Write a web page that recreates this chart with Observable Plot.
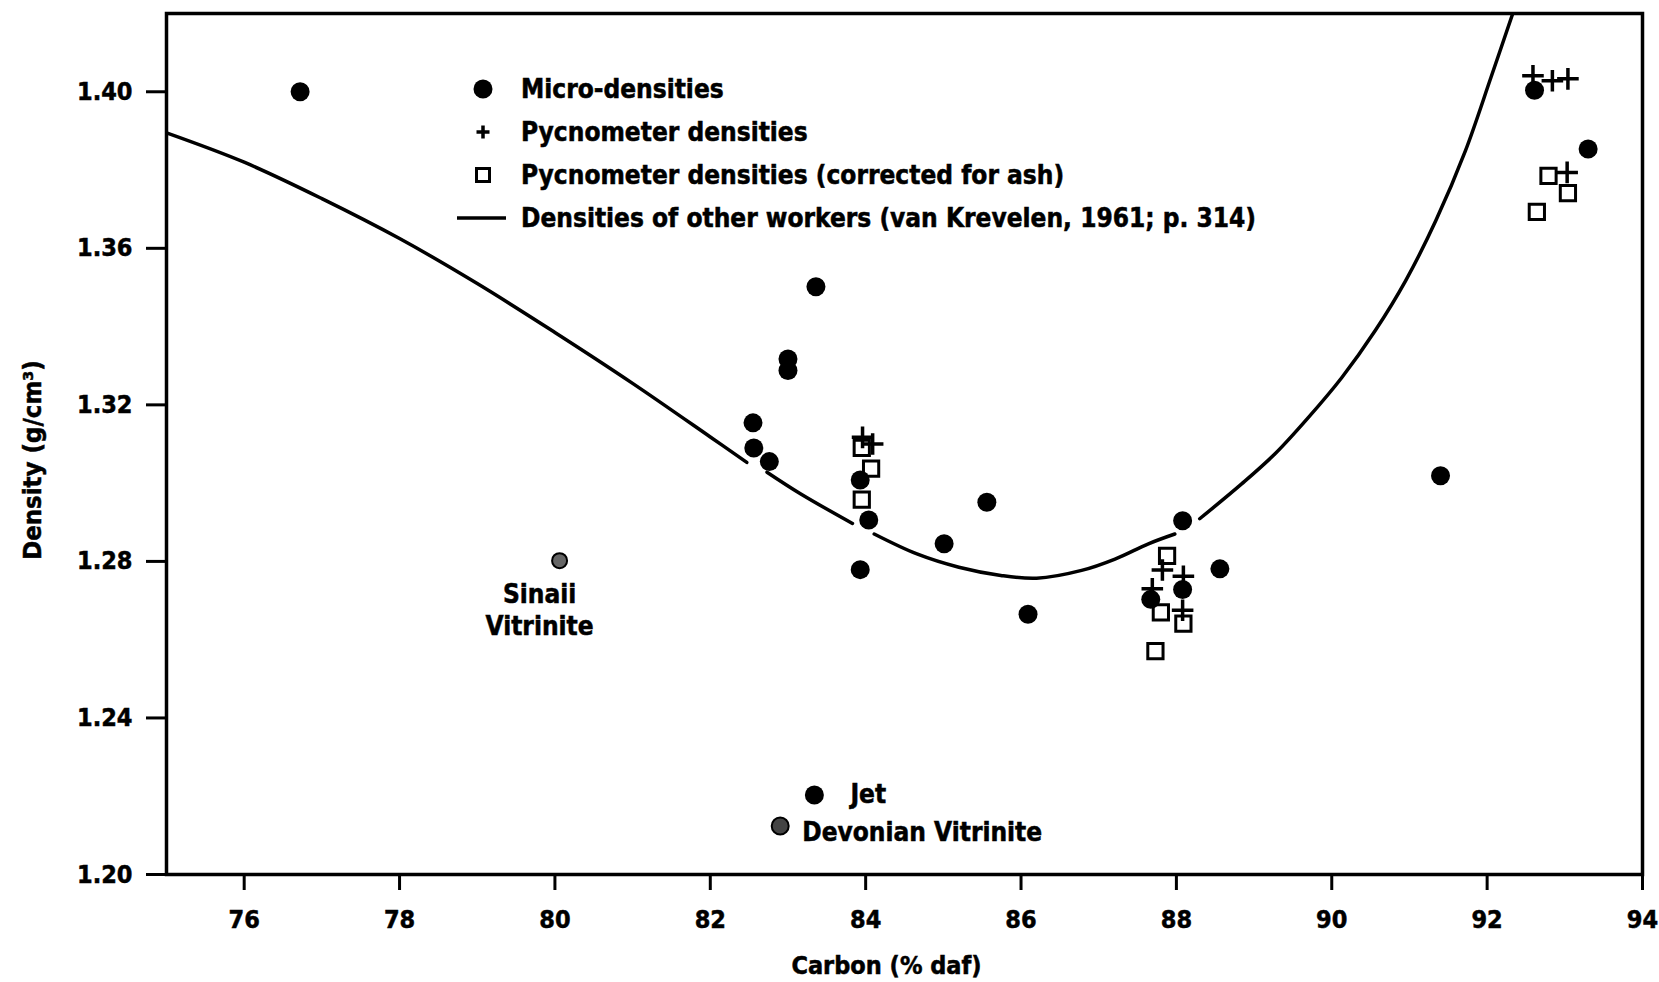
<!DOCTYPE html>
<html>
<head>
<meta charset="utf-8">
<script src="https://cdn.jsdelivr.net/npm/d3@7"></script>
<script src="https://cdn.jsdelivr.net/npm/@observablehq/plot@0.6"></script>
<style>
  html, body { margin: 0; padding: 0; background: #fff; }
  #chart { position: relative; width: 1659px; height: 982px; }
  #chart svg { display: block; }
  #chart svg text { stroke: #000; stroke-width: 0.5px; }
  #legend {
    position: absolute; left: 455px; top: 67px;
    font-family: "DejaVu Sans Condensed", "DejaVu Sans", sans-serif;
    font-stretch: condensed; font-weight: bold; font-size: 26px; color: #000;
    -webkit-text-stroke: 0.5px #000;
  }
  #legend .row { display: flex; align-items: center; height: 43px; white-space: nowrap; }
  #legend svg { width: 56px; height: 30px; margin-right: 10px; overflow: visible; }
</style>
</head>
<body>
<div id="chart"></div>
<script>
const FONT = '"DejaVu Sans Condensed", "DejaVu Sans", sans-serif';

// Micro-densities (filled circles): carbon % daf, density g/cm³
const microCarbon  = [76.72, 82.55, 82.56, 82.76, 83.00, 83.00, 83.36, 83.93, 84.04, 83.93,
                      85.01, 85.56, 86.09, 87.67, 88.08, 88.08, 88.56, 91.40, 92.61, 93.30];
const microDensity = [1.4000, 1.3154, 1.3090, 1.3055, 1.3317, 1.3288, 1.3502, 1.3008, 1.2906, 1.2779,
                      1.2845, 1.2951, 1.2665, 1.2703, 1.2904, 1.2728, 1.2781, 1.3019, 1.4004, 1.3854];

// Pycnometer densities (plus signs)
const pycCarbon  = [83.96, 84.09, 87.82, 88.09, 87.69, 88.08, 92.59, 92.84, 93.04, 93.03];
const pycDensity = [1.3117, 1.3100, 1.2778, 1.2762, 1.2730, 1.2675, 1.4041, 1.4028, 1.4033, 1.3794];

// Pycnometer densities corrected for ash (open squares)
const ashCarbon  = [83.95, 84.07, 83.95, 87.88, 87.80, 88.09, 87.73, 92.79, 93.04, 92.64];
const ashDensity = [1.3090, 1.3037, 1.2958, 1.2814, 1.2670, 1.2641, 1.2571, 1.3785, 1.3741, 1.3693];

// Named samples (Jet is a micro-density; the two vitrinites are shaded)
const sampleNames   = ["Jet", "Sinaii\nVitrinite", "Devonian Vitrinite"];
const sampleCarbon  = [83.34, 80.06, 82.90];
const sampleDensity = [1.2203, 1.2802, 1.2124];
const sampleSolid   = [true, false, false];

// Densities of other workers (van Krevelen, 1961), drawn in broken pieces
const curveCarbon  = [75.00, 76.00, 77.00, 78.00, 79.00, 80.00, 81.00, 82.00, 82.47,
                      82.73, 83.16, 83.83,
                      84.11, 84.66, 85.20, 85.74, 86.20, 86.78, 87.21, 87.64, 87.98,
                      88.30, 88.84, 89.27, 89.70, 90.13, 90.56, 90.95, 91.34, 91.72, 92.05, 92.33];
const curveDensity = [1.3895, 1.3820, 1.3727, 1.3625, 1.3510, 1.3385, 1.3255, 1.3118, 1.3053,
                      1.3028, 1.2973, 1.2897,
                      1.2870, 1.2819, 1.2785, 1.2764, 1.2757, 1.2777, 1.2806, 1.2845, 1.2870,
                      1.2909, 1.2998, 1.3075, 1.3168, 1.3270, 1.3390, 1.3517, 1.3671, 1.3849, 1.4037, 1.4200];
const curvePiece   = [0, 0, 0, 0, 0, 0, 0, 0, 0,
                      1, 1, 1,
                      2, 2, 2, 2, 2, 2, 2, 2, 2,
                      3, 3, 3, 3, 3, 3, 3, 3, 3, 3, 3];

const xTicks = [76, 78, 80, 82, 84, 86, 88, 90, 92, 94];
const yTicks = [1.20, 1.24, 1.28, 1.32, 1.36, 1.40];

const xLabel = "Carbon (% daf)";
const yLabel = "Density (g/cm³)";
const legendLabels = [
  "Micro-densities",
  "Pycnometer densities",
  "Pycnometer densities (corrected for ash)",
  "Densities of other workers (van Krevelen, 1961; p. 314)"
];

const idx = (arr) => arr.map((_, i) => i);
const microIdx = idx(microCarbon);
const pycIdx = idx(pycCarbon);
const ashIdx = idx(ashCarbon);
const sampleIdx = idx(sampleNames);
const curveIdx = idx(curveCarbon);
const solidIdx = sampleIdx.filter((i) => sampleSolid[i]);
const sx = (i) => sampleCarbon[i];
const sy = (i) => sampleDensity[i];

const chart = Plot.plot({
  width: 1659,
  height: 982,
  marginTop: 13,
  marginRight: 17,
  marginBottom: 108,
  marginLeft: 166,
  style: {fontFamily: FONT, fontSize: "25px", fontWeight: "bold", color: "#000", background: "#fff", fontStretch: "condensed"},
  x: {domain: [75, 94]},
  y: {domain: [1.20, 1.42]},
  marks: [
    Plot.axisX({ticks: xTicks, tickSize: 16, tickPadding: 20, strokeWidth: 3, label: null, tickFormat: d3.format("d")}),
    Plot.axisY({ticks: yTicks, tickSize: 20, tickPadding: 14, strokeWidth: 3, label: null, tickFormat: d3.format(".2f")}),
    Plot.frame({strokeWidth: 3.5}),
    Plot.line(curveIdx, {
      x: (i) => curveCarbon[i], y: (i) => curveDensity[i], z: (i) => curvePiece[i],
      curve: "catmull-rom", stroke: "#000", strokeWidth: 3.5, clip: true
    }),
    Plot.dot(microIdx, {x: (i) => microCarbon[i], y: (i) => microDensity[i], r: 9.5, fill: "#000"}),
    Plot.dot(solidIdx, {x: sx, y: sy, r: 9.5, fill: "#000"}),
    // shaded vitrinite samples
    Plot.dot([1], {x: sx, y: sy, r: 7.5, fill: "#666", stroke: "#000", strokeWidth: 2}),
    Plot.dot([2], {x: sx, y: sy, r: 8.5, fill: "#444", stroke: "#000", strokeWidth: 2}),
    Plot.dot(pycIdx, {x: (i) => pycCarbon[i], y: (i) => pycDensity[i], symbol: "plus", r: 7, stroke: "#000", strokeWidth: 3.5}),
    Plot.dot(ashIdx, {x: (i) => ashCarbon[i], y: (i) => ashDensity[i], symbol: "square", r: 8.6, stroke: "#000", fill: "none", strokeWidth: 3}),
    // sample annotations
    Plot.text([0], {x: sx, y: sy, text: (i) => sampleNames[i], textAnchor: "start", dx: 36, fontSize: 26}),
    Plot.text([2], {x: sx, y: sy, text: (i) => sampleNames[i], textAnchor: "start", dx: 22, dy: 7, fontSize: 26}),
    Plot.text([1], {
      x: sx, y: sy, text: (i) => sampleNames[i],
      textAnchor: "middle", lineAnchor: "top", lineHeight: 1.22, dx: -20, dy: 20, fontSize: 26
    }),
    // axis titles
    Plot.text([xLabel], {text: (d) => d, frameAnchor: "bottom", dx: -18, dy: 91, lineAnchor: "middle", fontSize: 25}),
    Plot.text([yLabel], {text: (d) => d, frameAnchor: "left", dx: -134, dy: 16, rotate: -90, lineAnchor: "middle", textAnchor: "middle", fontSize: 25.5})
  ]
});

const host = document.getElementById("chart");
host.appendChild(chart);

// legend drawn over the upper-left of the plot area
const legendSymbols = [
  '<circle cx="28" cy="15" r="9.5" fill="#000"/>',
  '<path d="M28 8.5v13M21.5 15h13" stroke="#000" stroke-width="3.5" fill="none"/>',
  '<rect x="21.5" y="8.5" width="13" height="13" stroke="#000" stroke-width="3" fill="none"/>',
  '<line x1="2" y1="15" x2="51" y2="15" stroke="#000" stroke-width="3.5"/>'
];
const legend = document.createElement("div");
legend.id = "legend";
legend.innerHTML = legendLabels.map((label, i) =>
  `<div class="row"><svg viewBox="0 0 56 30">${legendSymbols[i]}</svg><span>${label}</span></div>`
).join("");
host.appendChild(legend);
</script>
</body>
</html>
